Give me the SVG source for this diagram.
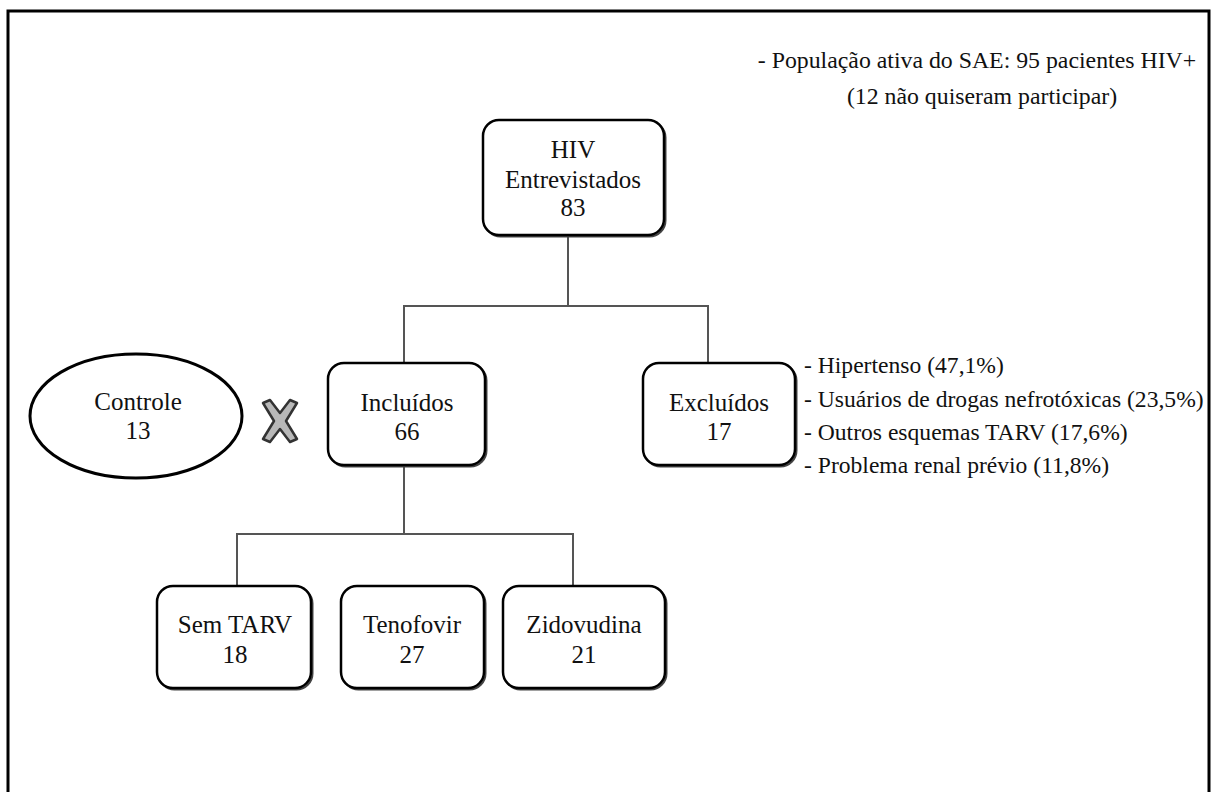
<svg xmlns="http://www.w3.org/2000/svg" width="1214" height="792" viewBox="0 0 1214 792">
<style>
.box{fill:#fff;stroke:#000;stroke-width:2.5}
.shadow{fill:none;stroke:#444;stroke-width:2}
.c{fill:none;stroke:#555;stroke-width:2}
.bt{font-size:25px;text-anchor:middle}
.lt{font-size:23.6px}
</style>
<rect x="0" y="0" width="1214" height="792" fill="#fff"/>
<rect x="8" y="11" width="1201" height="800" fill="none" stroke="#000" stroke-width="3"/>
<g id="connectors">
<path class="c" d="M568 236 V306 M404 365 V306 H708 V365"/>
<path class="c" d="M404 465 V534 M237 586 V534 H573 V586"/>
</g>
<g font-family="Liberation Serif, DejaVu Serif, Times New Roman, serif" fill="#111">
<g id="note" text-anchor="middle" font-size="23.8">
<text x="977" y="68">- População ativa do SAE: 95 pacientes HIV+</text>
<text x="982" y="104">(12 não quiseram participar)</text>
</g>
<g id="hiv">
<rect class="shadow" x="484.5" y="121.5" width="181" height="115" rx="16"/>
<rect class="box" x="483" y="120" width="181" height="115" rx="16"/>
<text class="bt" x="573" y="158">HIV</text>
<text class="bt" x="573" y="188">Entrevistados</text>
<text class="bt" x="573" y="216">83</text>
</g>
<g id="controle">
<ellipse cx="136" cy="416" rx="106" ry="62" fill="#fff" stroke="#000" stroke-width="3"/>
<text class="bt" x="138" y="410">Controle</text>
<text class="bt" x="138" y="439">13</text>
</g>
<g id="xmark">
<path d="M263 403 L270 400 L280 413 L290 400 L297 403 L286 421 L297 439 L290 442 L280 429 L270 442 L263 439 L274 421 Z" fill="#b8b8b8" stroke="#333" stroke-width="2.5" stroke-linejoin="round"/>
</g>
<g id="incluidos">
<rect class="shadow" x="329.5" y="364.5" width="157" height="102" rx="16"/>
<rect class="box" x="328" y="363" width="157" height="102" rx="16"/>
<text class="bt" x="407" y="411">Incluídos</text>
<text class="bt" x="407" y="440">66</text>
</g>
<g id="excluidos">
<rect class="shadow" x="644.5" y="364.5" width="152" height="102" rx="16"/>
<rect class="box" x="643" y="363" width="152" height="102" rx="16"/>
<text class="bt" x="719" y="411">Excluídos</text>
<text class="bt" x="719" y="440">17</text>
</g>
<g id="exclusion-reasons">
<text class="lt" x="804" y="373">- Hipertenso (47,1%)</text>
<text class="lt" x="804" y="407">- Usuários de drogas nefrotóxicas (23,5%)</text>
<text class="lt" x="804" y="440">- Outros esquemas TARV (17,6%)</text>
<text class="lt" x="804" y="473">- Problema renal prévio (11,8%)</text>
</g>
<g id="sem-tarv">
<rect class="shadow" x="158.5" y="587.5" width="154" height="102" rx="16"/>
<rect class="box" x="157" y="586" width="154" height="102" rx="16"/>
<text class="bt" x="235" y="633">Sem TARV</text>
<text class="bt" x="235" y="663">18</text>
</g>
<g id="tenofovir">
<rect class="shadow" x="342.5" y="587.5" width="143" height="102" rx="16"/>
<rect class="box" x="341" y="586" width="143" height="102" rx="16"/>
<text class="bt" x="412" y="633">Tenofovir</text>
<text class="bt" x="412" y="663">27</text>
</g>
<g id="zidovudina">
<rect class="shadow" x="504.5" y="587.5" width="162" height="102" rx="16"/>
<rect class="box" x="503" y="586" width="162" height="102" rx="16"/>
<text class="bt" x="584" y="633">Zidovudina</text>
<text class="bt" x="584" y="663">21</text>
</g>
</g>
</svg>
